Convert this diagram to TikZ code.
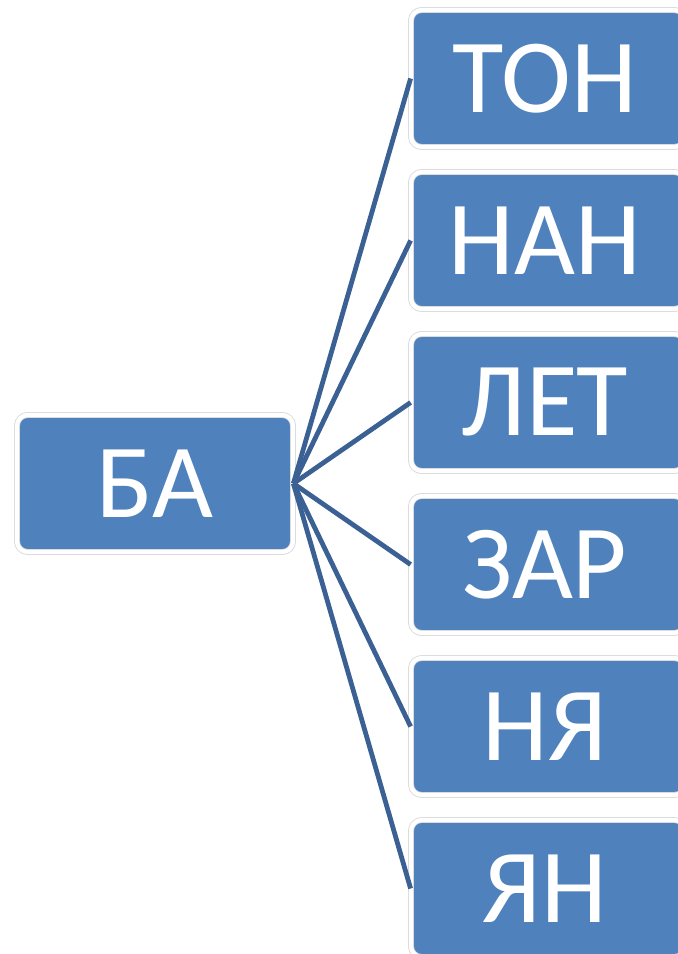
\documentclass[tikz,border=0pt]{standalone}
\usepackage{fontspec}
\setmainfont{Carlito}
\definecolor{boxblue}{RGB}{79,129,189}
\definecolor{linkblue}{RGB}{58,96,148}
\definecolor{rimgray}{RGB}{215,215,215}
\newcommand{\mytxtshift}[1]{\hspace*{-4.5pt}#1}
\begin{document}
\begin{tikzpicture}[x=0.75pt,y=-0.75pt,
  card/.style={fill=boxblue, draw=rimgray, line width=0.6pt, double=white, double distance=3.2pt,
    rounded corners=8pt, minimum height=137*0.75pt, inner sep=0pt,
    text=white, font=\fontsize{79}{80}\selectfont},
  rcard/.style={card, minimum width=274*0.75pt},
  link/.style={draw=linkblue, line width=3.6pt}]
\useasboundingbox (0,0) rectangle (678,954);
\node[card, minimum width=276*0.75pt] (ba) at (155,483.5) {БА};
\node[rcard] (ton) at (548,78.5) {\mytxtshift{ТОН}};
\node[rcard] (nan) at (548,240.5) {\mytxtshift{НАН}};
\node[rcard] (let) at (548,402.5) {\mytxtshift{ЛЕТ}};
\node[rcard] (zar) at (548,564.5) {\mytxtshift{ЗАР}};
\node[rcard] (nya) at (548,726.5) {\mytxtshift{НЯ}};
\node[rcard] (yan) at (548,888.5) {\mytxtshift{ЯН}};
\foreach \t in {ton,nan,let,zar,nya,yan}
  \draw[link] (ba.east) -- (\t.west);
\end{tikzpicture}
\end{document}
